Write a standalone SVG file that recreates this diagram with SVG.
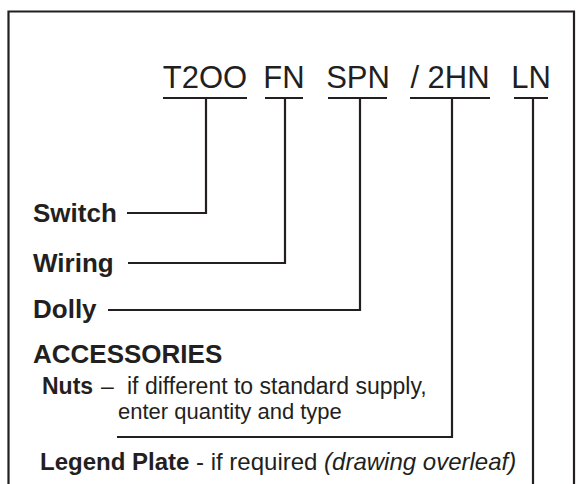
<svg xmlns="http://www.w3.org/2000/svg" width="581" height="484" viewBox="0 0 581 484">
<style>
text{font-family:"Liberation Sans",Arial,Helvetica,sans-serif;fill:#231f20}
.code{font-size:31px;text-anchor:middle}
.lbl{font-size:26px;font-weight:bold}
.txt{font-size:23px}
.b{font-weight:bold}
.i{font-style:italic}
.ln{fill:none;stroke:#231f20;stroke-width:2.2}
</style>
<rect width="581" height="484" fill="#fff"/>
<path class="ln" d="M8.5,486 V11.5 H574 V486"/>
<g id="code">
<text class="code" x="205" y="88">T2OO</text>
<text class="code" x="284" y="88">FN</text>
<text class="code" x="358" y="88">SPN</text>
<text class="code" x="450" y="88">/ 2HN</text>
<text class="code" x="531" y="88">LN</text>
</g>
<g id="switch"><text class="lbl" x="33" y="222">Switch</text></g>
<g id="wiring"><text class="lbl" x="33" y="272">Wiring</text></g>
<g id="dolly"><text class="lbl" x="33" y="318">Dolly</text></g>
<g id="accessories"><text class="lbl" x="33" y="363">ACCESSORIES</text></g>
<g id="nuts">
<text class="txt" x="42" y="394"><tspan class="b">Nuts</tspan><tspan x="101">–</tspan><tspan x="127">if different to standard supply,</tspan></text>
<text class="txt" x="118" y="419" style="font-size:22px">enter quantity and type</text>
</g>
<g id="legend">
<text class="txt" x="40" y="470" style="font-size:24px"><tspan class="b">Legend Plate</tspan> - if required <tspan class="i">(drawing overleaf)</tspan></text>
</g>
<g id="connectors">
<path class="ln" d="M163,98 H247 M206,98 V213 H127"/>
<path class="ln" d="M265,98 H303 M285,98 V263 H128"/>
<path class="ln" d="M328,98 H387 M360,98 V310 H108"/>
<path class="ln" d="M410,98 H490 M452,98 V437 H117"/>
<path class="ln" d="M514,98 H548 M533,98 V486"/>
</g>
</svg>
